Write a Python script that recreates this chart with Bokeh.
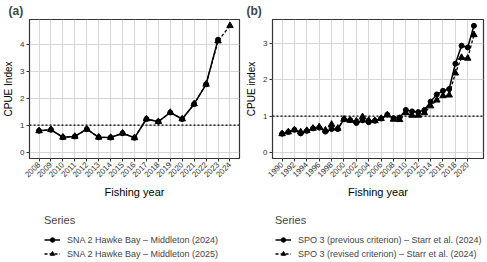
import math
from bokeh.plotting import figure
from bokeh.layouts import row, column
from bokeh.models import (Range1d, FixedTicker, Span, Legend, LegendItem)
from bokeh.embed import file_html
from bokeh.resources import INLINE

# ---------------- data ----------------
years_a_2024 = list(range(2008, 2024))
cpue_a_2024 = [0.79, 0.83, 0.55, 0.58, 0.85, 0.55, 0.54, 0.70, 0.53, 1.23,
               1.13, 1.47, 1.23, 1.79, 2.52, 4.18]
years_a_2025 = list(range(2008, 2025))
cpue_a_2025 = [0.79, 0.83, 0.55, 0.58, 0.85, 0.55, 0.54, 0.70, 0.53, 1.23,
               1.13, 1.47, 1.23, 1.79, 2.52, 4.13, 4.70]
label_a1 = "SNA 2 Hawke Bay – Middleton (2024)"
label_a2 = "SNA 2 Hawke Bay – Middleton (2025)"

years_b = list(range(1990, 2022))
cpue_b_prev = [0.51, 0.56, 0.62, 0.52, 0.59, 0.66, 0.68, 0.57, 0.64, 0.64,
               0.91, 0.89, 0.81, 0.88, 0.83, 0.87, 0.93, 1.04, 0.94, 0.96,
               1.17, 1.13, 1.11, 1.17, 1.40, 1.60, 1.70, 1.75, 2.45, 2.95,
               2.90, 3.50]
cpue_b_rev = [0.51, 0.56, 0.62, 0.56, 0.60, 0.66, 0.70, 0.61, 0.77, 0.66,
              0.91, 0.88, 0.86, 0.98, 0.88, 0.87, 0.93, 1.03, 0.91, 0.90,
              1.09, 1.02, 1.02, 1.09, 1.28, 1.44, 1.56, 1.58, 2.19, 2.62,
              2.60, 3.25]
label_b1 = "SPO 3 (previous criterion) – Starr et al. (2024)"
label_b2 = "SPO 3 (revised criterion) – Starr et al. (2024)"

xticks_a = list(range(2008, 2025))
xticks_b = list(range(1990, 2021, 2))
yticks_a = [0, 1, 2, 3, 4]
yticks_b = [0, 1, 2, 3]

FONT = "Liberation Sans"
PLOT_H = 200
LEG_H = 262 - PLOT_H

S1 = dict(line_color="black", line_width=1.5)
S2 = dict(line_color="black", line_width=1.3, line_dash="3 2")
M1 = dict(marker="circle", size=5, color="black")
M2 = dict(marker="triangle", size=6.5, color="black")


def make_panel(title, ylabel, x_range, y_range, xticks, yticks, width,
               s1, s2, min_left):
    p = figure(width=width, height=PLOT_H, output_backend="svg",
               toolbar_location=None, x_range=x_range, y_range=y_range,
               min_border_left=min_left, min_border_right=4,
               min_border_top=0, min_border_bottom=0)
    p.title.text = title
    p.title.text_font = FONT
    p.title.text_font_size = "12px"
    p.title.text_font_style = "bold"
    p.title.offset = -min_left + 3
    p.title.standoff = 3
    p.outline_line_color = "#333333"
    p.outline_line_width = 1.2
    p.background_fill_color = "white"
    p.border_fill_color = "white"

    p.xaxis.ticker = FixedTicker(ticks=xticks)
    p.yaxis.ticker = FixedTicker(ticks=yticks)
    p.xaxis.major_label_orientation = math.pi / 4
    for ax in (p.xaxis, p.yaxis):
        ax.axis_line_color = None
        ax.major_tick_line_color = "#333333"
        ax.major_tick_out = 3
        ax.major_tick_in = 0
        ax.minor_tick_line_color = None
        ax.major_label_text_font = FONT
        ax.major_label_text_font_size = "8px"
        ax.major_label_text_color = "#333333"
        ax.major_label_standoff = 2
        ax.axis_label_text_font = FONT
        ax.axis_label_text_font_style = "normal"
        ax.axis_label_text_color = "black"
    p.xaxis.axis_label = "Fishing year"
    p.xaxis.axis_label_text_font_size = "11px"
    p.xaxis.axis_label_standoff = 3
    p.yaxis.axis_label = ylabel
    p.yaxis.axis_label_text_font_size = "10px"
    p.yaxis.axis_label_standoff = 3

    p.xgrid.grid_line_color = "#d6d6d6"
    p.ygrid.grid_line_color = "#d6d6d6"
    p.xgrid.grid_line_width = 1
    p.ygrid.grid_line_width = 1

    ref = Span(location=1, dimension="width", line_color="black",
               line_dash="2 2", line_width=1.2)
    p.add_layout(ref)

    (x1, y1), (x2, y2) = s1, s2
    p.line(x1, y1, **S1)
    p.scatter(x1, y1, **M1)
    p.line(x2, y2, **S2)
    p.scatter(x2, y2, **M2)
    return p


def make_legend(width, s1, s2, lab1, lab2, x_off):
    # legend-only figure: the series are present but its view window
    # (0..1) lies away from them, so only the legend shows
    f = figure(frame_width=width, frame_height=LEG_H, output_backend="svg",
               toolbar_location=None, x_range=Range1d(0, 1),
               y_range=Range1d(0, 1), min_border=0)
    f.axis.visible = False
    f.grid.visible = False
    f.outline_line_color = None
    (x1, y1), (x2, y2) = s1, s2
    l1 = f.line(x1, y1, **S1)
    m1 = f.scatter(x1, y1, **M1)
    l2 = f.line(x2, y2, **S2)
    m2 = f.scatter(x2, y2, **M2)
    legend = Legend(items=[LegendItem(label=lab1, renderers=[l1, m1]),
                           LegendItem(label=lab2, renderers=[l2, m2])],
                    title="Series", location=(x_off, 1),
                    orientation="vertical")
    legend.title_text_font = FONT
    legend.title_text_font_size = "11px"
    legend.title_text_font_style = "normal"
    legend.title_standoff = 8
    legend.label_text_font = FONT
    legend.label_text_font_size = "9px"
    legend.label_height = 11
    legend.glyph_height = 11
    legend.glyph_width = 16
    legend.label_standoff = 7
    legend.spacing = 3
    legend.padding = 2
    legend.margin = 0
    legend.border_line_alpha = 0
    legend.background_fill_alpha = 0
    f.add_layout(legend)
    return f


WA, WB = 243, 244
pa = make_panel("(a)", "CPUE Index", Range1d(2007.2, 2024.8),
                Range1d(-0.24, 4.93), xticks_a, yticks_a, WA,
                (years_a_2024, cpue_a_2024), (years_a_2025, cpue_a_2025), 24)
pb = make_panel("(b)", "CPUE index", Range1d(1988.45, 2022.55),
                Range1d(-0.175, 3.675), xticks_b, yticks_b, WB,
                (years_b, cpue_b_prev), (years_b, cpue_b_rev), 29)
la = make_legend(WA, (years_a_2024, cpue_a_2024),
                 (years_a_2025, cpue_a_2025), label_a1, label_a2, 42)
lb = make_legend(WB, (years_b, cpue_b_prev), (years_b, cpue_b_rev),
                 label_b1, label_b2, 30)

layout = column(row(pa, pb), row(la, lb), spacing=0)
open("out.html", "w").write(file_html(layout, INLINE))
